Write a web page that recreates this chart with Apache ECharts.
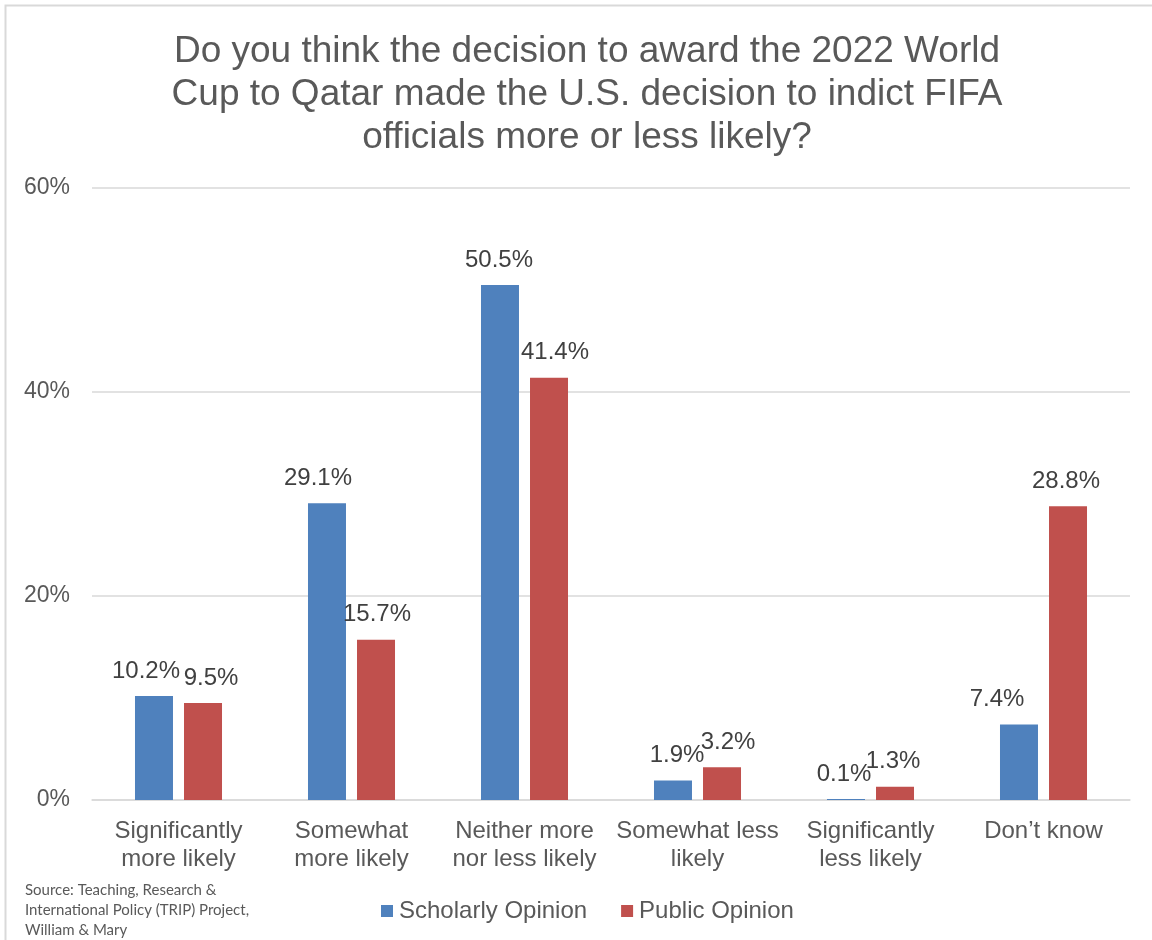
<!DOCTYPE html>
<html><head><meta charset="utf-8">
<script src="https://cdn.jsdelivr.net/npm/echarts@6/dist/echarts.min.js"></script>
<style>html,body{margin:0;padding:0;background:#fff}#c{width:1152px;height:940px}</style>
</head><body><div id="c"></div>
<script>
const categories = ["Significantly\nmore likely","Somewhat\nmore likely","Neither more\nnor less likely","Somewhat less\nlikely","Significantly\nless likely","Don\u2019t know"];
const scholarly = [10.2, 29.1, 50.5, 1.9, 0.1, 7.4];
const publicOp = [9.5, 15.7, 41.4, 3.2, 1.3, 28.8];
const yTicks = [0, 20, 40, 60];
const titleText = "Do you think the decision to award the 2022 World\nCup to Qatar made the U.S. decision to indict FIFA\nofficials more or less likely?";
const sourceText = "Source: Teaching, Research &\nInternational Policy (TRIP) Project,\nWilliam & Mary";

// label nudges (style only), to mimic the original's label placement
const blueOff = [[-8,0],[-9,0],[-1,0],[4,0],[-2,0],[-22,0]];
const redOff = [[8,0],[1,0],[6,0],[6,0],[-2,0],[-2,0]];

const FONT = "Liberation Sans, Arial, sans-serif";
const chart = echarts.init(document.getElementById('c'));
const labelCfg = {show: true, position: 'top', distance: 13, fontFamily: FONT, fontSize: 24, color: '#404040', formatter: p => p.value.toFixed(1) + '%'};
chart.setOption({
  animation: false,
  backgroundColor: '#fff',
  title: {
    text: titleText, left: 582, top: 25, textAlign: 'center',
    textStyle: {fontFamily: FONT, fontSize: 37, fontWeight: 'normal', color: '#595959', lineHeight: 43}
  },
  legend: {
    left: 376, top: 894, itemWidth: 12, itemHeight: 12, itemGap: 34,
    icon: 'rect',
    textStyle: {fontFamily: FONT, fontSize: 24, color: '#595959', padding: [0,0,0,1]},
    data: ['Scholarly Opinion', 'Public Opinion']
  },
  grid: {left: 92, right: 22, top: 188, bottom: 140, containLabel: false},
  xAxis: {
    type: 'category', data: categories,
    axisLine: {show: true, lineStyle: {color: '#d9d9d9', width: 1.5}},
    axisTick: {show: false},
    axisLabel: {fontFamily: FONT, fontSize: 24, color: '#595959', lineHeight: 28, margin: 17, interval: 0}
  },
  yAxis: {
    type: 'value', min: yTicks[0], max: yTicks[yTicks.length-1], interval: 20,
    axisLine: {show: false}, axisTick: {show: false},
    splitLine: {lineStyle: {color: '#d9d9d9', width: 1.5}},
    axisLabel: {fontFamily: FONT, fontSize: 23, color: '#595959', margin: 22, formatter: v => v + '%'}
  },
  series: [
    {
      name: 'Scholarly Opinion', type: 'bar', barWidth: 38, barGap: '29%',
      itemStyle: {color: '#4F81BD'},
      data: scholarly.map((v,i) => ({value: v, label: {offset: blueOff[i]}})),
      label: labelCfg
    },
    {
      name: 'Public Opinion', type: 'bar', barWidth: 38, barGap: '29%',
      itemStyle: {color: '#C0504D'},
      data: publicOp.map((v,i) => ({value: v, label: {offset: redOff[i]}})),
      label: labelCfg
    }
  ],
  graphic: [
    {type: 'rect', shape: {x: 5.5, y: 5.5, width: 1200, height: 1000}, style: {fill: 'none', stroke: '#d9d9d9', lineWidth: 2}, silent: true},
    {type: 'text', left: 25, top: 880, style: {text: sourceText, fontFamily: 'Lato, Open Sans, sans-serif', fontSize: 15, lineHeight: 20, fill: '#595959'}}
  ]
});
</script></body></html>
